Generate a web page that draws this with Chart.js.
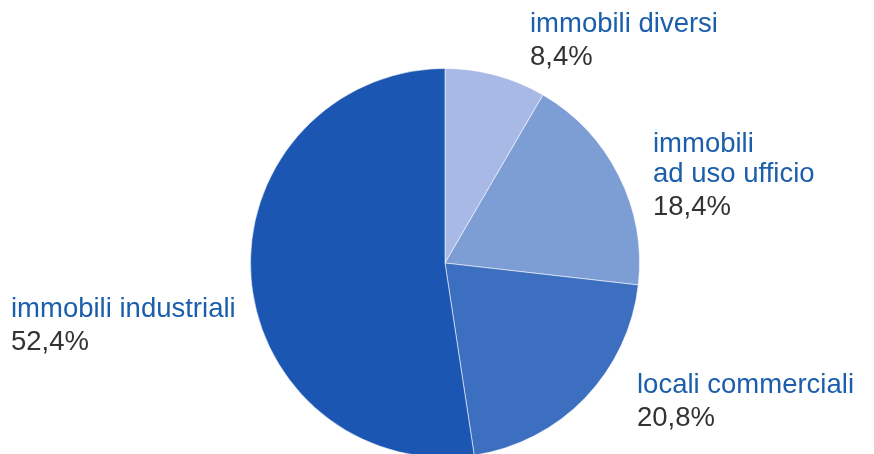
<!DOCTYPE html>
<html>
<head>
<meta charset="utf-8">
<script src="https://cdn.jsdelivr.net/npm/chart.js@4/dist/chart.umd.min.js"></script>
<style>
    html, body { margin: 0; padding: 0; background: #fff; overflow: hidden; }
    #wrap { width: 874px; height: 454px; overflow: hidden; }
</style>
</head>
<body>
<div id="wrap"><canvas id="quotaPie" width="874" height="470"></canvas></div>
<script>
// categorie e quote (%), in senso orario dalle ore 12
const categorie = ['immobili diversi', 'immobili ad uso ufficio', 'locali commerciali', 'immobili industriali'];
const quote = [8.4, 18.4, 20.8, 52.4];
const etichette = [
    ['immobili diversi'],
    ['immobili', 'ad uso ufficio'],
    ['locali commerciali'],
    ['immobili industriali']
];
const percentuali = ['8,4%', '18,4%', '20,8%', '52,4%'];

document.addEventListener('DOMContentLoaded', function() {
    const colors = ['#a9b9e6', '#7d9dd5', '#3d6fc0', '#1b57b2'];

    // posizione dei testi accanto alle fette (x, baseline prima riga)
    const textPos = [
        { x: 530, y: 32 },
        { x: 653, y: 152 },
        { x: 637, y: 393 },
        { x: 11, y: 317 }
    ];

    const labelPlugin = {
        id: 'sliceLabels',
        afterDraw(chart) {
            const ctx = chart.ctx;
            ctx.save();
            ctx.textAlign = 'left';
            ctx.textBaseline = 'alphabetic';
            etichette.forEach((righe, i) => {
                let y = textPos[i].y;
                ctx.font = '27.5px "Liberation Sans", Arial, sans-serif';
                ctx.fillStyle = '#1b5eab';
                righe.forEach(r => {
                    ctx.fillText(r, textPos[i].x, y);
                    y += 30;
                });
                y += 3;
                ctx.fillStyle = '#333333';
                ctx.fillText(percentuali[i], textPos[i].x, y);
            });
            ctx.restore();
        }
    };

    new Chart(document.getElementById('quotaPie').getContext('2d'), {
        type: 'pie',
        data: {
            labels: categorie,
            datasets: [{
                data: quote,
                backgroundColor: colors,
                borderColor: 'rgba(255,255,255,0.55)',
                borderWidth: 1
            }]
        },
        options: {
            responsive: false,
            animation: false,
            layout: {
                padding: { left: 250, right: 234, top: 68, bottom: 12 }
            },
            plugins: {
                legend: { display: false },
                tooltip: { enabled: false }
            }
        },
        plugins: [labelPlugin]
    });
});
</script>
</body>
</html>
